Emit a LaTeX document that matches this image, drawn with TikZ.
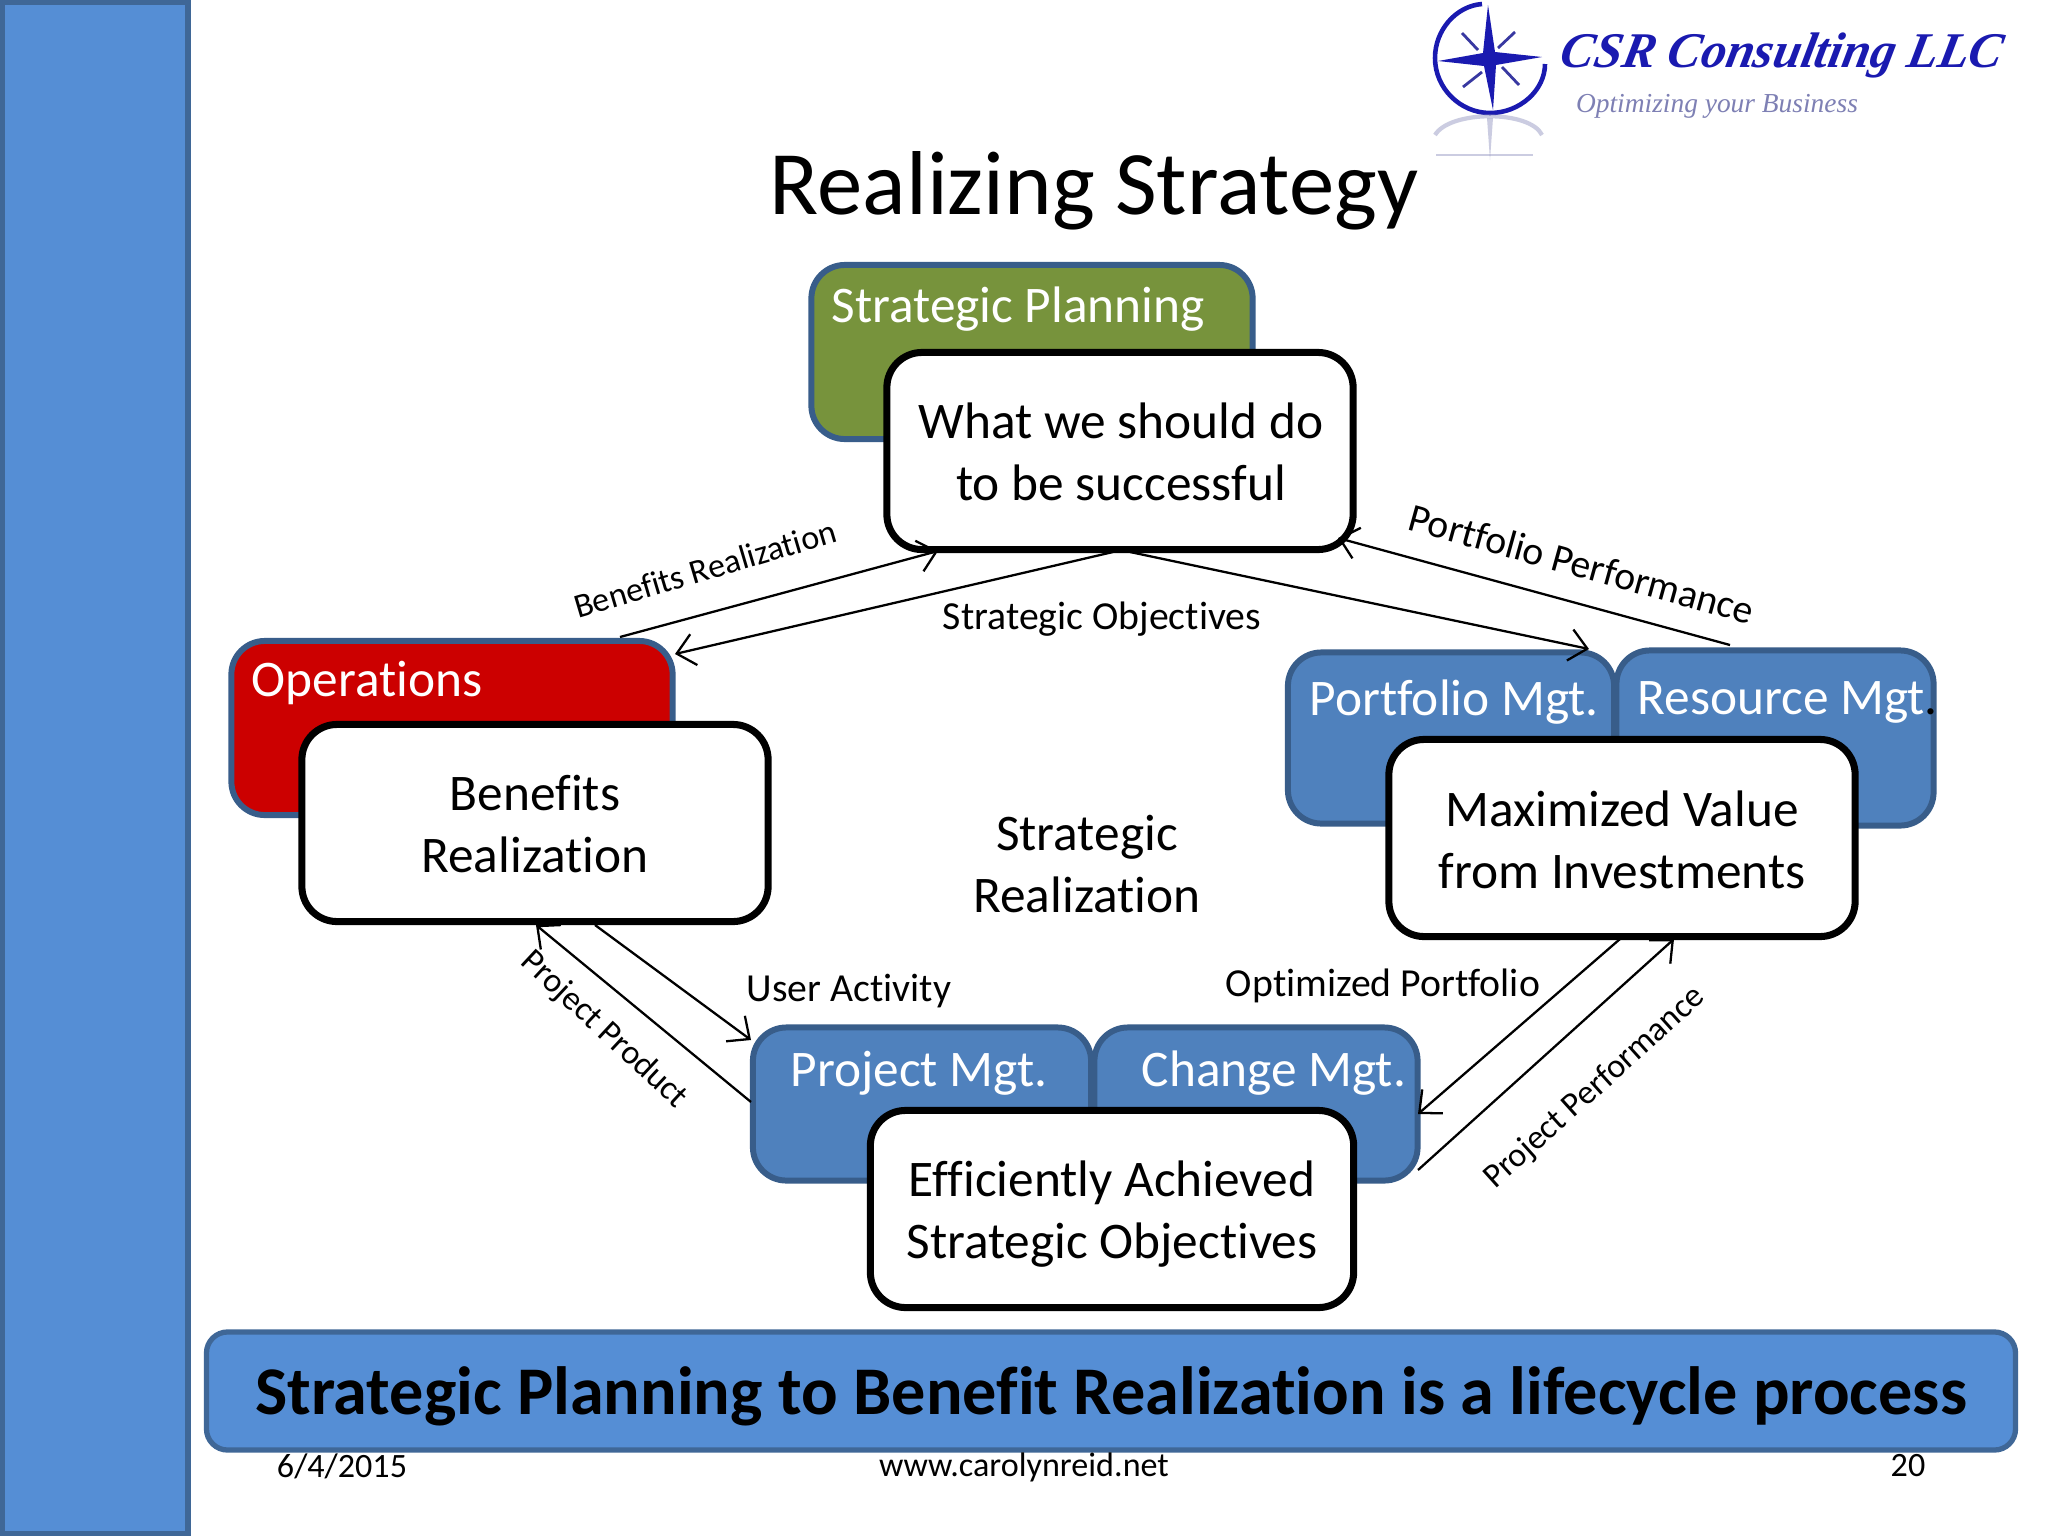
\documentclass[tikz,border=0pt]{standalone}
\usepackage{fontspec}
\setmainfont[Ligatures=CommonOff]{Carlito}
\newfontfamily\logofont{Liberation Serif}
\usetikzlibrary{arrows.meta,shapes.geometric}
\definecolor{barblue}{HTML}{558ED5}
\definecolor{barline}{HTML}{3F6797}
\definecolor{mgtblue}{HTML}{4F81BD}
\definecolor{mgtline}{HTML}{385D8A}
\definecolor{planolive}{HTML}{77933C}
\definecolor{opsred}{HTML}{CC0000}
\definecolor{logoblue}{HTML}{1A1AB0}
\definecolor{logogray}{HTML}{7E80B4}
\tikzset{
  x=0.01cm,y=-0.01cm,
  headbox/.style={draw=mgtline,line width=1.7pt,rounded corners=9.5pt,inner sep=0pt},
  whitebox/.style={draw=black,fill=white,line width=2pt,rounded corners=10pt,inner sep=0pt},
  headtext/.style={text=white,anchor=west,inner sep=0pt,font=\fontsize{14.6}{17.5}\selectfont},
  plain/.style={text=black,inner sep=0pt,align=center,font=\fontsize{14.6}{17.5}\selectfont},
  small/.style={text=black,inner sep=0pt,font=\fontsize{11.3}{14}\selectfont},
  smaller/.style={text=black,inner sep=0pt,font=\fontsize{9.7}{12}\selectfont},
  foot/.style={text=black,inner sep=0pt,font=\fontsize{9.7}{12}\selectfont},
  flow/.style={draw=black,line width=0.65pt,-{Straight Barb[length=5pt,width=9pt,line width=0.65pt]}},
}
\begin{document}
\begin{tikzpicture}
\useasboundingbox (0,0) rectangle (2048,1536);
\fill[white] (0,0) rectangle (2048,1536);
% side bar
\node[draw=barline,fill=barblue,line width=1.5pt,minimum width=1.86cm,minimum height=15.31cm,inner sep=0pt] (bar) at (95,768) {};
% logo
\begin{scope}[logoblue]
\draw[line width=1.3pt] (1482,4) .. controls (1456,6) and (1435,30) .. (1435,58) .. controls (1435,88) and (1460,113) .. (1490,113) .. controls (1520,113) and (1545,90) .. (1545,64);
\fill (1488,5) -- (1495,52) -- (1542,57) -- (1496,65) -- (1493,110) -- (1484,66) -- (1438,61) -- (1483,53) -- cycle;
\end{scope}
\begin{scope}[logoblue!70!gray,line width=0.8pt]
\draw (1462,33) -- (1478,50);
\draw (1515,32) -- (1498,48);
\draw (1463,87) -- (1482,72);
\draw (1519,85) -- (1502,67);
\end{scope}
\begin{scope}[logogray,opacity=0.4]
\draw[line width=1.2pt] (1435,135) .. controls (1450,110) and (1530,110) .. (1542,135);
\fill (1487,118) -- (1493,118) -- (1490,160) -- cycle;
\draw[line width=0.8pt] (1436,155) -- (1533,155);
\end{scope}
\node[inner sep=0pt,text=logoblue,xslant=0.2,font=\logofont\bfseries\itshape\fontsize{14.2}{18}\selectfont] (logotitle) at (1782,55) {CSR Consulting LLC};
\node[inner sep=0pt,text=logogray,font=\logofont\itshape\fontsize{7.8}{10}\selectfont] (logotag) at (1717,106) {Optimizing your Business};
% title
\node[inner sep=0pt,text=black,font=\fontsize{25.8}{30}\selectfont] (title) at (1094,191) {Realizing Strategy};
% strategic planning
\node[headbox,fill=planolive,minimum width=4.41cm,minimum height=1.74cm] (planbox) at (1032,352) {};
\node[headtext] (plantext) at (831,309) {Strategic Planning};
\node[whitebox,minimum width=4.66cm,minimum height=1.97cm] (plan) at (1120,451) {};
\node[plain] (plantxt) at (1121,452) {What we should do\\to be successful};
% operations
\node[headbox,fill=opsred,minimum width=4.41cm,minimum height=1.74cm] (opsbox) at (452,728) {};
\node[headtext] (opstext) at (251,683) {Operations};
\node[whitebox,minimum width=4.66cm,minimum height=1.97cm] (ops) at (535,823) {};
\node[plain] (opstxt) at (535,824) {Benefits\\Realization};
% portfolio + resource
\node[headbox,fill=mgtblue,minimum width=3.26cm,minimum height=1.71cm] (portbox) at (1451,738) {};
\node[headbox,fill=mgtblue,minimum width=3.17cm,minimum height=1.75cm] (resbox) at (1775,738) {};
\node[headtext] (porttext) at (1309,702) {Portfolio Mgt.};
\node[headtext] (restext) at (1637,702) {Resource Mgt\textcolor{black}{.}};
\node[whitebox,minimum width=4.66cm,minimum height=1.97cm] (value) at (1622,838) {};
\node[plain] (valuetxt) at (1622,840) {Maximized Value\\from Investments};
% project + change
\node[headbox,fill=mgtblue,minimum width=3.38cm,minimum height=1.53cm] (projbox) at (922,1104) {};
\node[headbox,fill=mgtblue,minimum width=3.23cm,minimum height=1.53cm] (chgbox) at (1256,1104) {};
\node[headtext] (projtext) at (790,1073) {Project Mgt.};
\node[headtext] (chgtext) at (1141,1073) {Change Mgt.};
\node[whitebox,minimum width=4.83cm,minimum height=1.97cm] (effic) at (1112,1209) {};
\node[plain] (effictxt) at (1112,1214) {Efficiently Achieved\\Strategic Objectives};
% centre
\node[plain] (centre) at (1087,864) {Strategic\\Realization};
% connector ends
\coordinate (a1) at (620,637);
\coordinate (a2) at (938,551);
\coordinate (b1) at (1113,552);
\coordinate (b2) at (675,654);
\coordinate (c1) at (1130,552);
\coordinate (c2) at (1589,649);
\coordinate (d1) at (1730,645);
\coordinate (d2) at (1338,538);
\coordinate (e1) at (1620,939);
\coordinate (e2) at (1418,1114);
\coordinate (f1) at (1418,1170);
\coordinate (f2) at (1674,939);
\coordinate (g1) at (595,925);
\coordinate (g2) at (751,1040);
\coordinate (h1) at (751,1102);
\coordinate (h2) at (536,925);
\draw[flow] (a1) -- (a2);
\draw[flow] (b1) -- (b2);
\draw[flow] (c1) -- (c2);
\draw[flow] (d1) -- (d2);
\draw[flow] (e1) -- (e2);
\draw[flow] (f1) -- (f2);
\draw[flow] (g1) -- (g2);
\draw[flow] (h1) -- (h2);
% labels
\node[smaller,rotate=16.5] (l1) at (705,569) {Benefits Realization};
\node[small] (l2) at (1102,619) {Strategic Objectives};
\node[small,rotate=-15.5] (l3) at (1582,564) {Portfolio Performance};
\node[small] (l4) at (849,991) {User Activity};
\node[small] (l5) at (1383,986) {Optimized Portfolio};
\node[smaller,rotate=-43] (l6) at (604,1030) {Project Product};
\node[smaller,rotate=42] (l7) at (1595,1088) {Project Performance};
% banner
\node[draw=barline,fill=barblue,line width=1.5pt,rounded corners=6pt,minimum width=18.08cm,minimum height=1.18cm,inner sep=0pt] (banner) at (1111,1391) {};
\node[inner sep=0pt,text=black,font=\bfseries\fontsize{19.4}{24}\selectfont] (bannertext) at (1111,1396) {Strategic Planning to Benefit Realization is a lifecycle process};
% footer
\node[foot] (date) at (342,1466) {6/4/2015};
\node[foot] (site) at (1024,1467) {www.carolynreid.net};
\node[foot] (num) at (1908,1466) {20};
\end{tikzpicture}
\end{document}
